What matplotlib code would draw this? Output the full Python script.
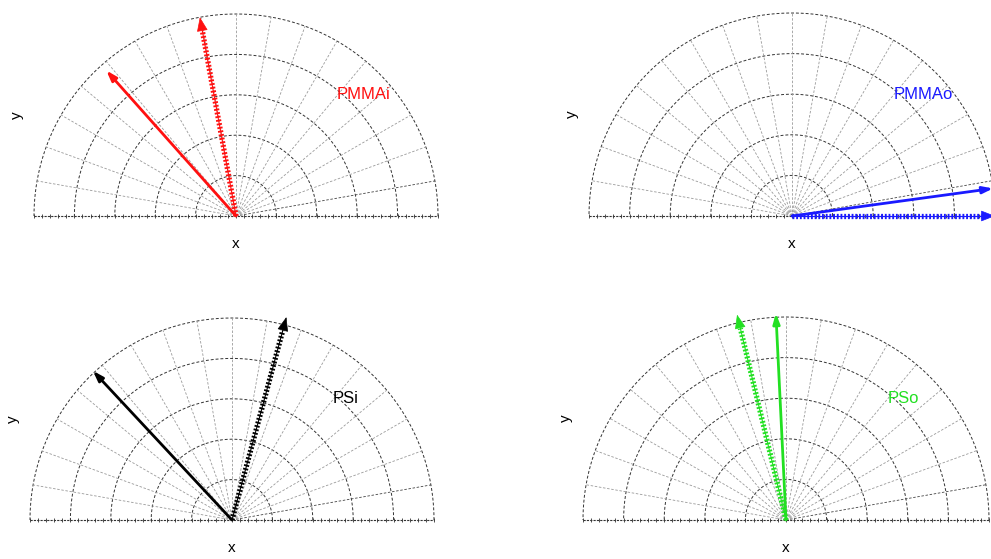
"""Four half-polar panels with direction arrows."""

import numpy as np
import matplotlib.pyplot as plt

plt.rcParams["font.family"] = ["Liberation Sans", "DejaVu Sans"]

# panel names and colours
panel_names = ["PMMAi", "PMMAo", "PSi", "PSo"]
panel_colors = ["#ff1010", "#1a1aff", "#000000", "#22e022"]

# arrow directions (degrees) and lengths (outer ring = 1)
solid_angle = [131.7, 7.8, 133.0, 92.8]
solid_length = [0.965, 1.0, 1.01, 1.02]
dotted_angle = [100.3, 0.0, 75.0, 103.4]
dotted_length = [1.0, 1.0, 1.04, 1.04]

# grid
ring_radii = [0.2, 0.4, 0.6, 0.8, 1.0]
spoke_angles = list(range(10, 180, 10))

# axes boxes in pixels: centre x, centre y (from top), radius
W, H = 991, 559
boxes = [(236, 216, 202), (792, 216, 203), (232, 520, 202), (786, 520, 203)]


def draw_arrow(ax, angle, length, color, dotted):
    t = np.deg2rad(angle)
    tip = (length * np.cos(t), length * np.sin(t))
    if dotted:
        back = length - 0.07
        base = (back * np.cos(t), back * np.sin(t))
        ax.plot([0, base[0]], [0, base[1]], color=color, lw=3.8,
                ls=(0, (0.35, 0.35)), solid_capstyle="butt", clip_on=False, zorder=3)
        ax.plot([0, base[0]], [0, base[1]], color=color, lw=0.8, clip_on=False, zorder=3)
        ax.annotate("", xy=tip, xytext=base,
                    arrowprops=dict(arrowstyle="-|>,head_length=0.9,head_width=0.35",
                                    color=color, lw=0.5, shrinkA=0, shrinkB=0),
                    annotation_clip=False, zorder=4)
    else:
        ax.annotate("", xy=tip, xytext=(0, 0),
                    arrowprops=dict(arrowstyle="-|>,head_length=0.6,head_width=0.2",
                                    color=color, lw=2.0, shrinkA=0, shrinkB=0),
                    annotation_clip=False, zorder=4)


fig = plt.figure(figsize=(W / 100, H / 100), dpi=100)

for i, (cx, cy, r) in enumerate(boxes):
    ax = fig.add_axes([(cx - r) / W, (H - cy) / H, 2 * r / W, r / H])
    ax.set_xlim(-1, 1)
    ax.set_ylim(0, 1)
    for s in ax.spines.values():
        s.set_visible(False)
    ax.set_yticks([])
    ax.set_xticks([])

    th = np.linspace(0, np.pi, 300)
    for rr in ring_radii:
        ax.plot(rr * np.cos(th), rr * np.sin(th), color="#333333", lw=0.7,
                ls=(0, (3, 2)), clip_on=False, zorder=1)
    for a in spoke_angles:
        t = np.deg2rad(a)
        c = "#444444" if a == 10 else "#9a9a9a"
        ax.plot([0, np.cos(t)], [0, np.sin(t)], color=c, lw=0.6,
                ls=(0, (3, 2)), clip_on=False, zorder=1)
    ax.plot([-1, 1], [0, 0], color="#333333", lw=0.8, ls=(0, (2, 1)),
            clip_on=False, zorder=1)
    ax.plot(np.arange(-1, 1.001, 0.04), np.zeros(51), ls="none", marker="|",
            ms=2.5, mew=0.6, color="#333333", clip_on=False, zorder=1)

    col = panel_colors[i]
    draw_arrow(ax, dotted_angle[i], dotted_length[i], col, True)
    draw_arrow(ax, solid_angle[i], solid_length[i], col, False)

    ax.text(0.5, 0.6, panel_names[i], color=col, fontsize=12, ha="left", va="center")
    ax.set_xlabel("x", fontsize=11, labelpad=15)
    ax.set_ylabel("y", fontsize=11, labelpad=7)

fig.savefig("out.png", dpi=100)
